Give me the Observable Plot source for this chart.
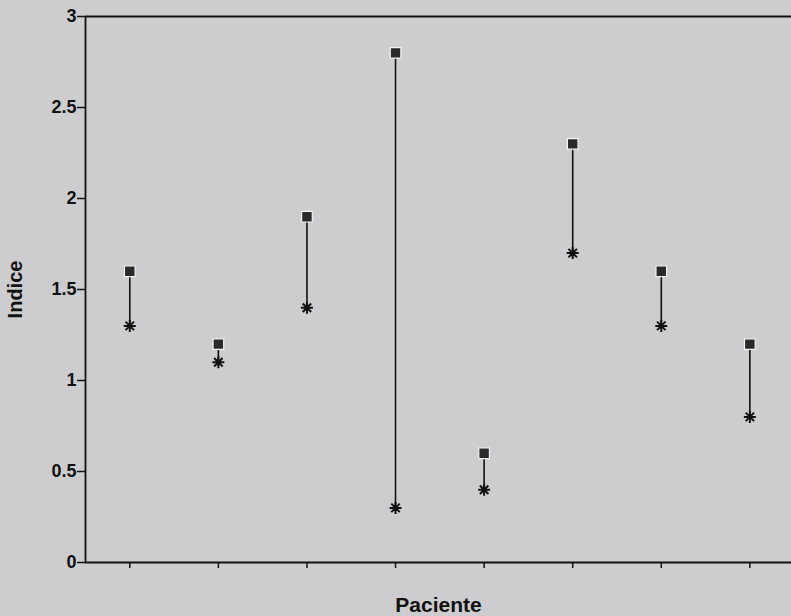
<!DOCTYPE html>
<html>
<head>
<meta charset="utf-8">
<script src="https://cdn.jsdelivr.net/npm/d3@7"></script>
<script src="https://cdn.jsdelivr.net/npm/@observablehq/plot@0.6"></script>
<style>
  html, body { margin: 0; padding: 0; background: #cdcdcf; }
  #chart { width: 791px; height: 616px; overflow: hidden; }
</style>
</head>
<body>
<div id="chart"></div>
<script>
const patients = [1, 2, 3, 4, 5, 6, 7, 8];
const indiceSquare = [1.6, 1.2, 1.9, 2.8, 0.6, 2.3, 1.6, 1.2];
const indiceStar = [1.3, 1.1, 1.4, 0.3, 0.4, 1.7, 1.3, 0.8];
const yTicks = [0, 0.5, 1, 1.5, 2, 2.5, 3];
const yTickLabels = ["0", "0.5", "1", "1.5", "2", "2.5", "3"];
const xLabel = "Paciente";
const yLabel = "Indice";

const data = patients.map((p, i) => ({ p, sq: indiceSquare[i], st: indiceStar[i] }));

// eight-armed asterisk symbol
const star8 = {
  draw(context, size) {
    const r = Math.sqrt(size / Math.PI);
    for (let k = 0; k < 4; ++k) {
      const a = (k * Math.PI) / 4;
      const dx = r * Math.cos(a), dy = r * Math.sin(a);
      context.moveTo(-dx, -dy);
      context.lineTo(dx, dy);
    }
  }
};

const chart = Plot.plot({
  width: 791,
  height: 616,
  marginLeft: 85,
  marginRight: 0,
  marginTop: 16,
  marginBottom: 54,
  style: { background: "#cdcdcf", fontFamily: "Liberation Sans, Arial, sans-serif", color: "#111" },
  x: { type: "linear", domain: [0.5, 8.47] },
  y: { domain: [0, 3] },
  marks: [
    Plot.ruleY([3], { stroke: "#111", strokeWidth: 1.8 }),
    Plot.ruleY([0], { stroke: "#111", strokeWidth: 1.8 }),
    Plot.ruleX([0.5], { stroke: "#111", strokeWidth: 1.8 }),
    Plot.axisY(yTicks, {
      tickFormat: (d) => yTickLabels[yTicks.indexOf(d)],
      tickSize: 8, tickPadding: 1, fontSize: 18, fontWeight: "bold",
      stroke: "#111", strokeWidth: 1.5, label: null
    }),
    Plot.axisX(patients, { tickSize: 6, tickFormat: () => "", stroke: "#111", strokeWidth: 1.5, label: null }),
    Plot.ruleX(data, { x: "p", y1: "st", y2: "sq", stroke: "#111", strokeWidth: 1.6 }),
    Plot.dot(data, { x: "p", y: "st", symbol: star8, r: 6, stroke: "#111", strokeWidth: 2 }),
    Plot.dot(data, { x: "p", y: "sq", symbol: "square", r: 6, fill: "#2a2a2a", stroke: "#f4f4f4", strokeWidth: 1.2 }),
    Plot.text([xLabel], { frameAnchor: "bottom", dy: 49, fontSize: 21, fontWeight: "bold", fill: "#111" }),
    Plot.text([yLabel], { frameAnchor: "left", dx: -70, textAnchor: "middle", rotate: -90, fontSize: 20, fontWeight: "bold", fill: "#111" })
  ]
});
document.getElementById("chart").appendChild(chart);
</script>
</body>
</html>
